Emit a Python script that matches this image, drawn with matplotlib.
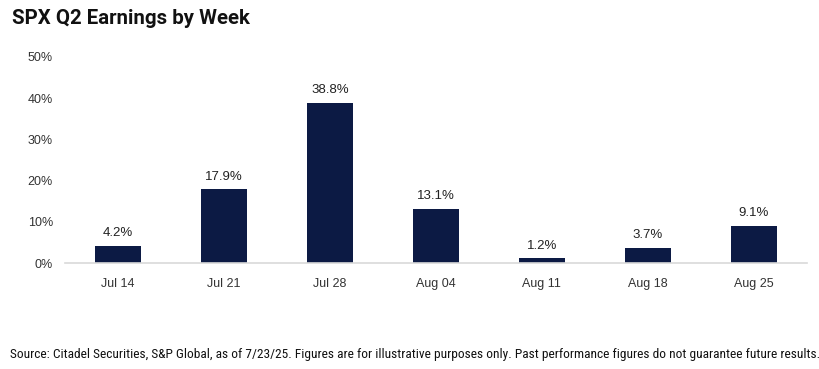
import matplotlib
matplotlib.use("Agg")
import matplotlib.pyplot as plt
from matplotlib import font_manager
from matplotlib.ticker import FuncFormatter

weeks = ["Jul 14", "Jul 21", "Jul 28", "Aug 04", "Aug 11", "Aug 18", "Aug 25"]
share = [4.2, 17.9, 38.8, 13.1, 1.2, 3.7, 9.1]
y_ticks = [0, 10, 20, 30, 40, 50]

NAVY = "#0c1a44"
SOURCE = ("Source: Citadel Securities, S&P Global, as of 7/23/25. Figures are for illustrative "
	"purposes only. Past performance figures do not guarantee future results.")

names = {f.name for f in font_manager.fontManager.ttflist}


def fit_width(txt, target_px, fig):
	# shrink/grow text so it spans target_px pixels
	r = fig.canvas.get_renderer()
	w = txt.get_window_extent(renderer=r).width
	txt.set_fontsize(txt.get_fontsize() * target_px / w)


fig = plt.figure(figsize=(8.2, 3.69), dpi=100)
ax = fig.add_axes([0.079, 0.287, 0.905, 0.559])

x = range(len(weeks))
ax.bar(x, share, width=0.43, color=NAVY)
for xi, v in zip(x, share):
	ax.text(xi, v + 1.6, f"{v:.1f}%", ha="center", va="bottom",
		fontsize=9.5, family="Liberation Sans", color="#222222")

ax.set_xlim(-0.5, len(weeks) - 0.5)
ax.set_ylim(0, 50)
ax.set_yticks(y_ticks)
ax.yaxis.set_major_formatter(FuncFormatter(lambda v, p: f"{v:.0f}%"))
ax.set_xticks(list(x))
ax.set_xticklabels(weeks)

for s in ["top", "right", "left"]:
	ax.spines[s].set_visible(False)
ax.spines["bottom"].set_color("#d9d9d9")
ax.spines["bottom"].set_linewidth(1.2)
ax.tick_params(axis="both", length=0, labelsize=9, labelcolor="#333333")
ax.tick_params(axis="x", pad=11)
ax.tick_params(axis="y", pad=8.5)
for lab in ax.get_xticklabels() + ax.get_yticklabels():
	lab.set_family("Liberation Sans")

title_font = "Roboto" if "Roboto" in names else "DejaVu Sans"
title = fig.text(0.015, 0.951, "SPX Q2 Earnings by Week", fontsize=14, fontweight="bold",
	family=title_font, color="#111111", va="center")

narrow = [n for n in ["Liberation Sans Narrow", "Roboto Condensed", "DejaVu Sans Condensed"] if n in names]
src = fig.text(0.012, 0.04, SOURCE, fontsize=8.6,
	family=(narrow[:1] or ["Roboto"]) + ["DejaVu Sans"], color="#111111", va="center")

fit_width(title, 238, fig)
fit_width(src, 803, fig)

fig.savefig("out.png", dpi=100, facecolor="white")
